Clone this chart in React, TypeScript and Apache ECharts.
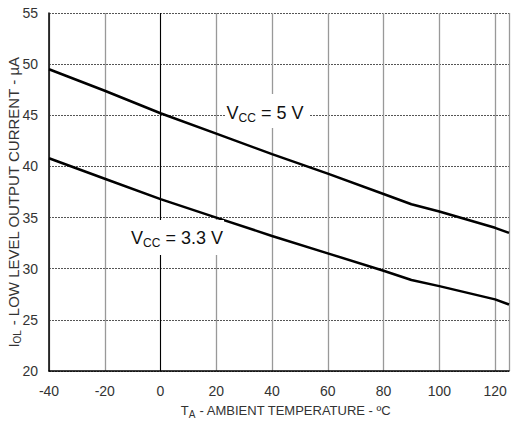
import React, { useEffect, useRef } from "react";
import * as echarts from "echarts";

const temps = [-40, -20, 0, 20, 40, 60, 80, 90, 100, 120, 125];
const iol5v = [49.5, 47.4, 45.2, 43.2, 41.2, 39.3, 37.3, 36.3, 35.6, 34.0, 33.5];
const iol33v = [40.8, 38.8, 36.8, 35.0, 33.2, 31.5, 29.8, 28.9, 28.3, 27.0, 26.5];
const xTicks = [-40, -20, 0, 20, 40, 60, 80, 100, 120];
const yTicks = [20, 25, 30, 35, 40, 45, 50, 55];

const FONT = "'Liberation Sans Narrow', 'Liberation Sans', Arial, sans-serif";

export default function App() {
  const ref = useRef<HTMLDivElement>(null);
  useEffect(() => {
    if (!ref.current) return;
    const chart = echarts.init(ref.current, null, { renderer: "svg" });
    const pairs = (ys: number[]) => temps.map((t, i) => [t, ys[i]]);
    chart.setOption({
      animation: false,
      backgroundColor: "#fff",
      grid: { left: 49, top: 13, right: 0, bottom: 57 },
      xAxis: {
        type: "value",
        min: -40,
        max: 125,
        interval: 20,
        axisLine: { show: true, onZero: false, lineStyle: { color: "#000", width: 1.5 } },
        axisTick: { show: false },
        axisLabel: {
          margin: 13,
          color: "#333",
          fontSize: 14,
          fontFamily: FONT,
          formatter: (v: number) => (xTicks.includes(v) ? String(v) : ""),
        },
        splitLine: { show: true, lineStyle: { color: "#999", width: 1.3 } },
      },
      yAxis: {
        type: "value",
        min: 20,
        max: 55,
        interval: 5,
        axisLine: { show: true, onZero: false, lineStyle: { color: "#000", width: 1.5 } },
        axisTick: { show: false },
        axisLabel: {
          margin: 11,
          color: "#333",
          fontSize: 14,
          fontFamily: FONT,
          formatter: (v: number) => (yTicks.includes(v) ? String(v) : ""),
        },
        splitLine: { show: true, lineStyle: { color: "#555", width: 1, type: [2, 1] } },
      },
      series: [
        {
          type: "line",
          data: pairs(iol5v),
          showSymbol: false,
          symbol: "none",
          lineStyle: { color: "#000", width: 2.5 },
          z: 5,
          markLine: {
            silent: true,
            symbol: "none",
            label: { show: false },
            lineStyle: { color: "#000", width: 1, type: "solid" },
            data: [{ xAxis: 0 }],
            z: 1,
          },
        },
        {
          type: "line",
          data: pairs(iol33v),
          showSymbol: false,
          symbol: "none",
          lineStyle: { color: "#000", width: 2.5 },
          z: 5,
        },
      ],
      graphic: [
        {
          type: "rect",
          shape: { x: 226, y: 94, width: 84, height: 34 },
          style: { fill: "#fff" },
          z: 10,
        },
        {
          type: "text",
          x: 265,
          y: 113,
          z: 11,
          style: {
            text: "{m|V}{s|CC}{m| = 5 V}",
            align: "center",
            verticalAlign: "middle",
            fill: "#111",
            rich: {
              m: { fontSize: 18, fontFamily: FONT, fill: "#111" },
              s: { fontSize: 12, fontFamily: FONT, fill: "#111", padding: [10, 0, 0, 0] },
            },
          },
        },
        {
          type: "rect",
          shape: { x: 128, y: 220, width: 96, height: 35 },
          style: { fill: "#fff" },
          z: 10,
        },
        {
          type: "text",
          x: 177,
          y: 238,
          z: 11,
          style: {
            text: "{m|V}{s|CC}{m| = 3.3 V}",
            align: "center",
            verticalAlign: "middle",
            fill: "#111",
            rich: {
              m: { fontSize: 18, fontFamily: FONT, fill: "#111" },
              s: { fontSize: 12, fontFamily: FONT, fill: "#111", padding: [10, 0, 0, 0] },
            },
          },
        },
        {
          type: "text",
          x: 286,
          y: 410,
          z: 11,
          style: {
            text: "{m|T}{s|A}{m| - AMBIENT TEMPERATURE - ºC}",
            align: "center",
            verticalAlign: "middle",
            fill: "#333",
            rich: {
              m: { fontSize: 13, fontFamily: FONT, fill: "#333" },
              s: { fontSize: 10, fontFamily: FONT, fill: "#333", padding: [8, 0, 0, 0] },
            },
          },
        },
        {
          type: "text",
          x: 13,
          y: 202,
          rotation: Math.PI / 2,
          z: 11,
          style: {
            text: "{m|I}{s|OL}{m| - LOW LEVEL OUTPUT CURRENT - µA}",
            align: "center",
            verticalAlign: "middle",
            fill: "#333",
            rich: {
              m: { fontSize: 15, fontFamily: FONT, fill: "#333" },
              s: { fontSize: 10, fontFamily: FONT, fill: "#333", padding: [9, 0, 0, 0] },
            },
          },
        },
      ],
    });
    return () => chart.dispose();
  }, []);
  return <div ref={ref} style={{ width: 512, height: 428, position: "absolute", left: 0, top: 0 }} />;
}
